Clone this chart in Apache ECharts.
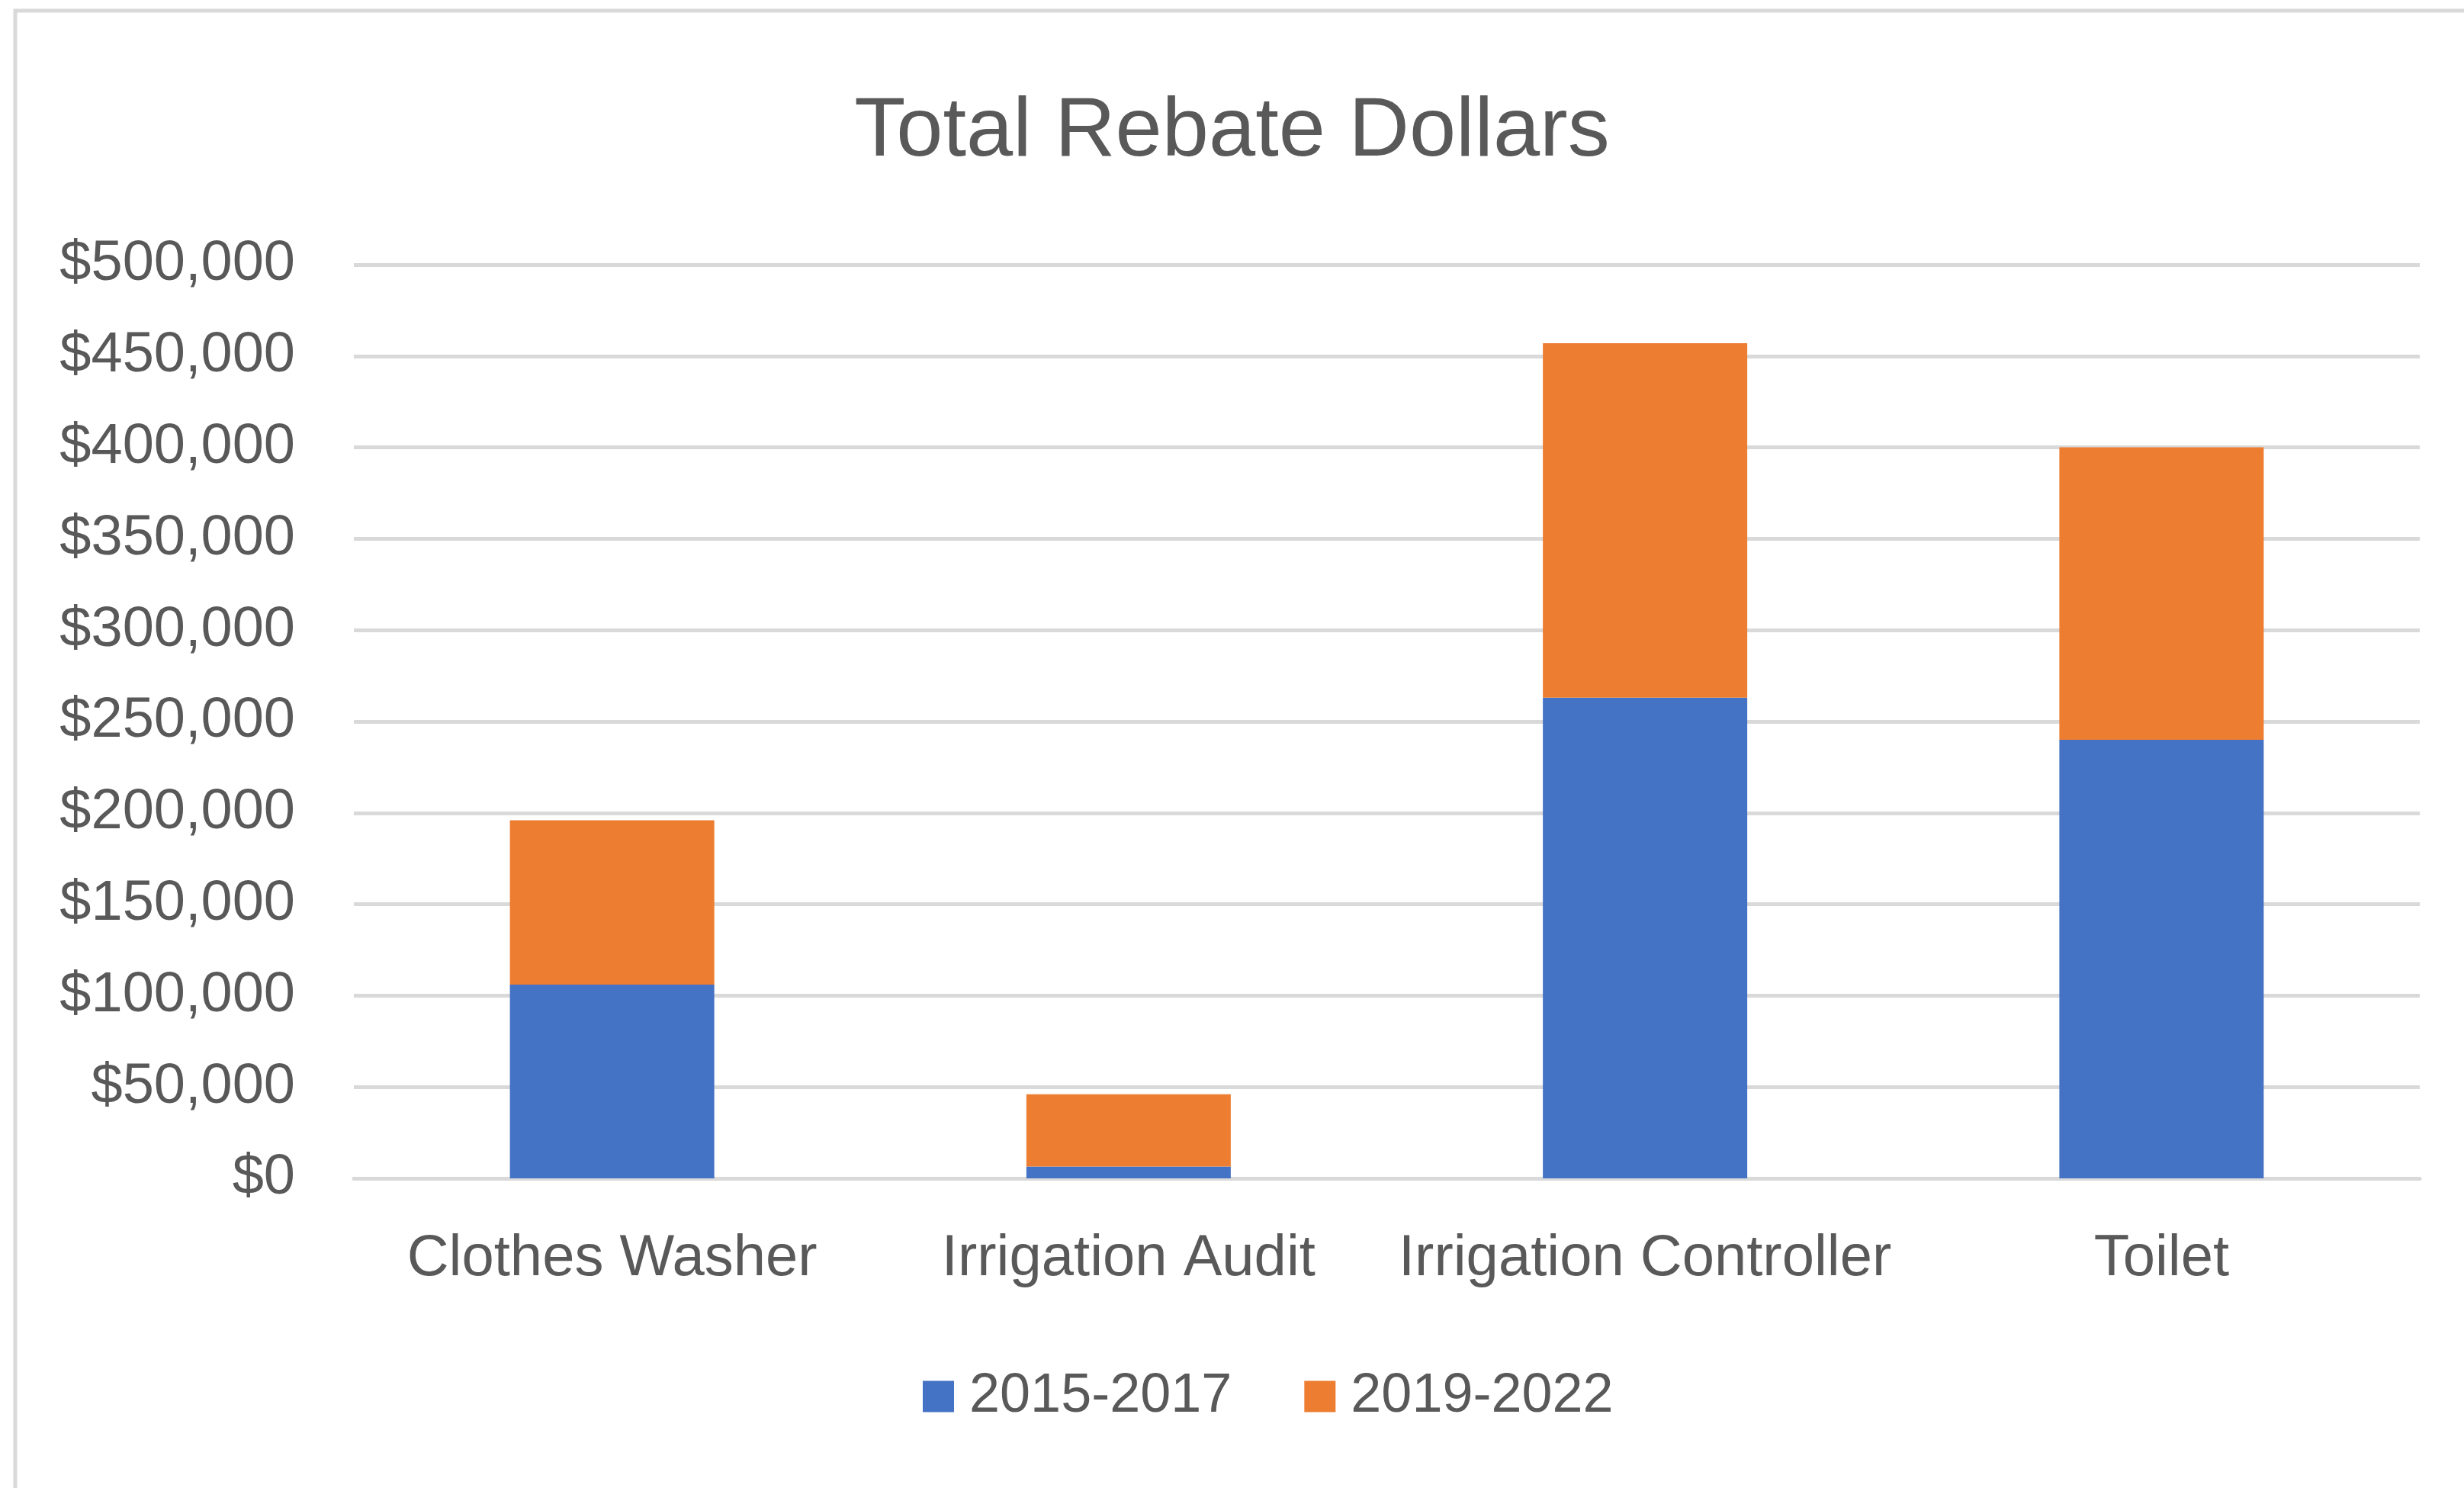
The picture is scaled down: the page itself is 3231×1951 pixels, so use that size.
<!DOCTYPE html>
<html>
<head>
<meta charset="utf-8">
<title>Total Rebate Dollars</title>
<script src="https://cdn.jsdelivr.net/npm/echarts@6/dist/echarts.min.js"></script>
<style>
    html, body { margin: 0; padding: 0; background: #fff; }
    #main { width: 3231px; height: 1951px; }
</style>
</head>
<body>
<div id="main"></div>
<script>
// 数据
var categories = ['Clothes Washer', 'Irrigation Audit', 'Irrigation Controller', 'Toilet'];
var seriesNames = ['2015-2017', '2019-2022'];
var values2015 = [106000, 6500, 263000, 240000];
var values2019 = [90000, 39500, 194000, 160000];

var textColor = '#595959';
var gridColor = '#d9d9d9';
var fontName = 'Liberation Sans';

// 初始化echarts实例
var myChart = echarts.init(document.getElementById('main'));

var option = {
    backgroundColor: '#fff',
    animation: false,
    textStyle: { fontFamily: fontName },
    title: {
        text: 'Total Rebate Dollars',
        left: 'center',
        top: 114,
        textStyle: { color: textColor, fontSize: 110, fontWeight: 'normal', fontFamily: fontName }
    },
    // 外框
    graphic: [{
        type: 'rect',
        silent: true,
        shape: { x: 20, y: 14, width: 3400, height: 2100 },
        style: { fill: 'none', stroke: gridColor, lineWidth: 5 }
    }],
    legend: {
        data: seriesNames,
        left: 1205,
        top: 1790,
        icon: 'rect',
        itemWidth: 41,
        itemHeight: 41,
        itemGap: 95,
        textStyle: { color: textColor, fontSize: 72, fontFamily: fontName, padding: [0, 0, 0, 15] }
    },
    grid: {
        left: 464,
        right: 58,
        top: 347,
        bottom: 406,
        containLabel: false
    },
    xAxis: {
        type: 'category',
        data: categories,
        axisTick: { show: false },
        axisLine: { lineStyle: { color: gridColor, width: 5 } },
        axisLabel: { color: textColor, fontSize: 76, margin: 68, interval: 0 }
    },
    yAxis: {
        type: 'value',
        min: 0,
        max: 500000,
        interval: 50000,
        axisLine: { show: false },
        axisTick: { show: false },
        splitLine: { lineStyle: { color: gridColor, width: 5 } },
        axisLabel: {
            color: textColor,
            fontSize: 74,
            margin: 77,
            formatter: function (v) { return '$' + v.toLocaleString('en-US'); }
        }
    },
    series: [{
        name: seriesNames[0],
        type: 'bar',
        stack: 'total',
        barWidth: 268,
        itemStyle: { color: '#4472c4' },
        data: values2015
    }, {
        name: seriesNames[1],
        type: 'bar',
        stack: 'total',
        barWidth: 268,
        itemStyle: { color: '#ed7d31' },
        data: values2019
    }]
};
myChart.setOption(option);
</script>
</body>
</html>
